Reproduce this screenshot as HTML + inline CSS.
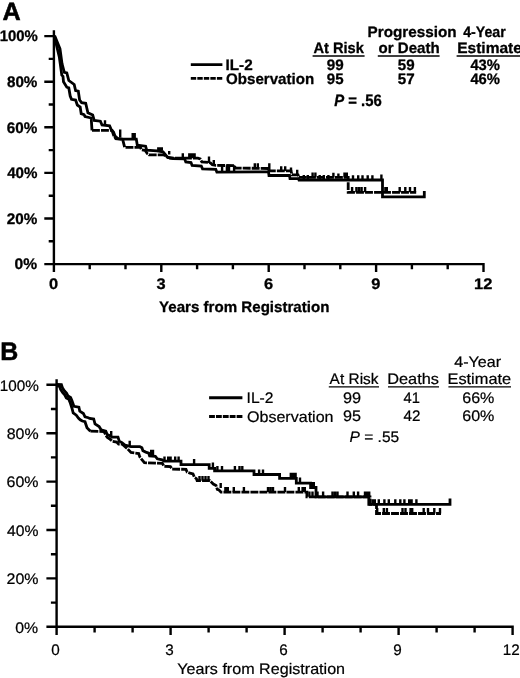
<!DOCTYPE html>
<html><head><meta charset="utf-8"><title>Kaplan-Meier</title>
<style>
html,body{margin:0;padding:0;background:#fff;}
body{width:520px;height:678px;overflow:hidden;font-family:"Liberation Sans",sans-serif;}
svg{display:block;will-change:transform;}
svg text{font-family:"Liberation Sans",sans-serif;fill:#000;text-rendering:geometricPrecision;stroke:#000;stroke-linejoin:round;stroke-width:.3px;}
svg text[font-weight="normal"]{stroke-width:.22px;}
svg text.big{stroke-width:.55px;}
</style></head><body>
<svg width="520" height="678" viewBox="0 0 520 678">
<rect width="520" height="678" fill="#fff"/>
<g fill="none" stroke="#000" stroke-linecap="butt" stroke-linejoin="miter">
<path stroke-width="2.4" d="M53.9,30.2V265.3M52.7,264.1H484.7M44.3,264.1H53.9M48.7,241.3H53.9M44.3,218.5H53.9M48.7,195.7H53.9M44.3,172.9H53.9M48.7,150.1H53.9M44.3,127.3H53.9M48.7,104.5H53.9M44.3,81.7H53.9M48.7,58.9H53.9M44.3,36.1H53.9M53.9,264.1V272.0M89.7,264.1V269.3M125.5,264.1V269.3M161.3,264.1V272.0M197.1,264.1V269.3M232.9,264.1V269.3M268.7,264.1V272.0M304.5,264.1V269.3M340.3,264.1V269.3M376.1,264.1V272.0M411.9,264.1V269.3M447.7,264.1V269.3M483.5,264.1V272.0"/>
<path stroke-width="2.8" d="M54.6,35.6 L60.0,48.8 L62.0,63.6 L64.3,72.4 L66.8,73.0 L68.8,80.5 L74.2,84.5 L75.6,90.6 L78.3,91.2 L79.6,100.0 L81.6,102.7 L85.7,103.3 L87.9,112.7 L92.7,115.0 L94.2,120.4 L100.4,121.2 L102.0,125.0 L109.6,125.8 L111.2,129.6 L113.5,132.0 L115.0,136.0 L117.5,138.3 L123.0,139.2 L136.3,139.2 L137.3,145.2 L145.6,146.2 L146.7,150.2 L157.0,150.8 L163.0,151.8 L165.4,154.6 L167.7,157.5 L173.0,158.5 L184.6,158.8 L185.8,162.0 L191.0,162.5 L192.1,165.4 L201.3,166.0 L202.5,168.8 L215.8,169.4 L216.9,172.2 L268.5,171.8 L269.0,175.5 L289.5,175.5 L290.0,178.6 L298.5,178.6 L299.0,180.0 L382.5,180.0 L382.5,196.8 L424.3,196.8 L424.3,191.0"/>
<path stroke-width="2.8" d="M54.4,36.4 L59.3,56.9 L61.8,75.1 L63.0,76.4 L63.5,81.8 L66.8,87.2 L68.8,87.9 L70.2,96.0 L71.5,99.3 L75.6,100.0 L77.3,105.0 L80.2,107.0 L81.2,113.7 L84.0,114.6 L85.0,116.5 L91.2,118.0 L92.0,130.4"/>
<path stroke-width="2.8" stroke-dasharray="7.9 1.1" d="M92.0,130.4 L112.0,130.4 L113.5,135.0 L115.8,138.8 L122.7,139.6 L124.7,147.3 L140.4,147.3 L141.5,149.8 L145.0,150.3 L147.3,153.6 L149.0,154.8 L163.5,154.8 L167.0,156.8 L170.0,158.0 L197.9,158.2 L200.2,159.0 L201.9,162.0 L208.3,162.5 L210.6,163.0 L212.3,164.8 L215.8,165.4 L234.2,165.6 L235.4,168.0 L268.5,168.5 L269.0,170.8 L291.0,170.8 L292.0,174.8 L298.0,174.8 L299.0,177.4 L348.2,177.4 L348.2,192.3 L416.2,192.3"/>
<path stroke-width="2.4" d="M105.0,125.0v-4.8M120.2,137.5v-8.0M132.7,139.2v-6.2M134.7,139.2v-6.2M158.3,150.8v-3.6M160.2,150.8v-3.6M161.8,150.8v-3.6M169.2,154.5v-3.6M182.8,158.2v-5.0M189.3,158.2v-5.0M191.1,158.2v-5.0M192.9,158.2v-5.0M194.6,158.2v-5.0M209.0,163.0v-6.6M213.8,165.4v-5.4M222.1,172.2v-7.0M226.9,172.2v-7.0M229.0,172.2v-7.0M234.1,172.2v-7.0M254.8,168.5v-5.2M257.8,168.5v-5.2M269.3,171.0v-7.7M281.2,171.0v-4.8M285.2,171.0v-4.8M291.0,171.0v-3.6M297.2,174.8v-5.0M303.8,180.0v-5.0M307.8,180.0v-5.0M319.7,180.0v-5.0M323.8,180.0v-5.0M328.4,180.0v-5.0M312.6,177.4v-5.0M315.4,177.4v-5.0M333.4,177.4v-4.6M338.4,177.4v-4.0M344.5,177.4v-5.0M346.8,177.4v-5.0M353.0,180.0v-4.8M358.2,180.0v-4.8M362.5,180.0v-4.8M367.7,180.0v-4.8M372.4,180.0v-4.8M381.4,180.0v-5.5M352.1,192.3v-5.4M356.4,192.3v-5.4M359.0,192.3v-5.4M361.6,192.3v-5.4M365.1,192.3v-5.4M385.4,192.3v-5.4M386.8,192.3v-5.4M399.7,192.3v-5.4M405.3,192.3v-5.4M410.0,192.3v-5.4M414.9,192.3v-5.4"/>
<path stroke-width="2.8" d="M190.8,64.7H222.4"/>
<path stroke-width="2.8" stroke-dasharray="5.4 1.12" d="M190.8,78.4H222.4"/>
</g>
<text class="big" x="2.47" y="19.7" font-size="25" font-weight="bold" text-anchor="start" textLength="18.22" lengthAdjust="spacingAndGlyphs">A</text>
<text x="14.48" y="269.3" font-size="15.3" font-weight="bold" text-anchor="start" textLength="22.52" lengthAdjust="spacingAndGlyphs">0%</text>
<text x="6.87" y="223.7" font-size="15.3" font-weight="bold" text-anchor="start" textLength="30.54" lengthAdjust="spacingAndGlyphs">20%</text>
<text x="7.17" y="178.1" font-size="15.3" font-weight="bold" text-anchor="start" textLength="30.23" lengthAdjust="spacingAndGlyphs">40%</text>
<text x="6.87" y="132.5" font-size="15.3" font-weight="bold" text-anchor="start" textLength="30.54" lengthAdjust="spacingAndGlyphs">60%</text>
<text x="6.94" y="86.9" font-size="15.3" font-weight="bold" text-anchor="start" textLength="30.46" lengthAdjust="spacingAndGlyphs">80%</text>
<text x="-0.29" y="41.3" font-size="15.3" font-weight="bold" text-anchor="start" textLength="38.13" lengthAdjust="spacingAndGlyphs">100%</text>
<text x="49.14" y="289.1" font-size="15.3" font-weight="bold" text-anchor="start" textLength="9.13" lengthAdjust="spacingAndGlyphs">0</text>
<text x="156.63" y="289.1" font-size="15.3" font-weight="bold" text-anchor="start" textLength="9.13" lengthAdjust="spacingAndGlyphs">3</text>
<text x="263.94" y="289.1" font-size="15.3" font-weight="bold" text-anchor="start" textLength="9.13" lengthAdjust="spacingAndGlyphs">6</text>
<text x="371.34" y="289.1" font-size="15.3" font-weight="bold" text-anchor="start" textLength="9.13" lengthAdjust="spacingAndGlyphs">9</text>
<text x="474.02" y="289.1" font-size="15.3" font-weight="bold" text-anchor="start" textLength="18.27" lengthAdjust="spacingAndGlyphs">12</text>
<text x="159.1" y="311.8" font-size="15.2" font-weight="bold" text-anchor="start" textLength="170.33" lengthAdjust="spacingAndGlyphs">Years from Registration</text>
<text x="225.51" y="69.9" font-size="15.2" font-weight="bold" text-anchor="start" textLength="27.15" lengthAdjust="spacingAndGlyphs">IL-2</text>
<text x="226.0" y="83.5" font-size="15.2" font-weight="bold" text-anchor="start" textLength="88.21" lengthAdjust="spacingAndGlyphs">Observation</text>
<text x="367.61" y="36.5" font-size="15.2" font-weight="bold" text-anchor="start" textLength="89.01" lengthAdjust="spacingAndGlyphs">Progression</text>
<text x="463.19" y="36.5" font-size="15.2" font-weight="bold" text-anchor="start" textLength="42.59" lengthAdjust="spacingAndGlyphs">4-Year</text>
<text x="313.43" y="53" font-size="15.2" font-weight="bold" text-anchor="start" textLength="50.37" lengthAdjust="spacingAndGlyphs">At Risk</text>
<text x="378.5" y="53" font-size="15.2" font-weight="bold" text-anchor="start" textLength="61.13" lengthAdjust="spacingAndGlyphs">or Death</text>
<text x="457.19" y="53" font-size="15.2" font-weight="bold" text-anchor="start" textLength="64.71" lengthAdjust="spacingAndGlyphs">Estimate</text>
<text x="326.87" y="70.1" font-size="15.2" font-weight="bold" text-anchor="start" textLength="16.9" lengthAdjust="spacingAndGlyphs">99</text>
<text x="326.87" y="83.5" font-size="15.2" font-weight="bold" text-anchor="start" textLength="16.74" lengthAdjust="spacingAndGlyphs">95</text>
<text x="397.75" y="70.1" font-size="15.2" font-weight="bold" text-anchor="start" textLength="16.82" lengthAdjust="spacingAndGlyphs">59</text>
<text x="397.74" y="83.5" font-size="15.2" font-weight="bold" text-anchor="start" textLength="16.9" lengthAdjust="spacingAndGlyphs">57</text>
<text x="470.38" y="70.1" font-size="15.2" font-weight="bold" text-anchor="start" textLength="29.61" lengthAdjust="spacingAndGlyphs">43%</text>
<text x="470.38" y="83.5" font-size="15.2" font-weight="bold" text-anchor="start" textLength="29.61" lengthAdjust="spacingAndGlyphs">46%</text>
<g stroke="#000" stroke-width="1.3"><path d="M312.6,56H364.6M377.8,56H439.6M456.6,56H520"/></g>
<text x="334.2" y="105.6" font-size="16.6" font-weight="bold" textLength="47.6" lengthAdjust="spacingAndGlyphs"><tspan font-style="italic">P</tspan> = .56</text>
<g fill="none" stroke="#000" stroke-linecap="butt" stroke-linejoin="miter">
<path stroke-width="2.4" d="M56.6,379.2V628.0M55.4,626.8H513.8M46.4,626.8H56.6M50.9,602.6H56.6M46.4,578.4H56.6M50.9,554.2H56.6M46.4,530.0H56.6M50.9,505.8H56.6M46.4,481.6H56.6M50.9,457.4H56.6M46.4,433.2H56.6M50.9,409.0H56.6M46.4,384.8H56.6M56.6,626.8V635.0M94.6,626.8V632.5M132.6,626.8V632.5M170.6,626.8V635.0M208.6,626.8V632.5M246.6,626.8V632.5M284.6,626.8V635.0M322.6,626.8V632.5M360.6,626.8V632.5M398.6,626.8V635.0M436.6,626.8V632.5M474.6,626.8V632.5M512.6,626.8V635.0"/>
<path stroke-width="2.8" d="M56.7,384.4 L61.4,384.6 L62.4,387.7 L64.5,390.9 L66.5,393.1 L68.1,396.1 L70.6,397.4 L71.9,400.6 L73.9,406.3 L78.9,407.2 L79.8,411.2 L83.4,413.5 L85.0,416.8 L88.3,417.7 L89.7,418.4 L93.7,419.0 L95.0,423.8 L99.1,426.5 L101.1,429.8 L105.8,431.2 L107.2,434.5 L110.5,435.9 L111.9,437.2 L118.0,437.2 L119.3,441.3 L122.0,442.6 L125.0,445.0 L131.0,446.6 L139.8,446.6 L141.9,447.8 L142.9,450.7 L145.8,452.1 L148.7,453.1 L149.6,456.0 L155.4,456.4 L157.3,458.8 L162.1,459.8 L164.0,461.2 L181.0,461.2 L181.0,464.7 L209.2,464.7 L209.2,468.4 L214.6,468.4 L214.6,470.9 L254.0,470.9 L254.0,474.5 L279.6,474.5 L279.6,478.3 L296.3,478.3 L296.3,483.2 L310.6,483.2 L310.6,487.5 L316.0,487.5 L316.0,496.8 L368.8,496.8 L368.8,504.3 L450.0,504.3 L450.0,498.6"/>
<path stroke-width="2.8" d="M56.7,385.9 L59.6,386.4 L60.6,389.5 L62.7,392.7 L64.7,394.9 L66.3,397.9 L68.8,399.2 L70.1,402.4 L71.9,408.0 L73.2,413.0 L76.3,415.2 L78.6,418.3 L80.2,419.8 L82.3,421.0 L85.0,421.7 L87.0,427.8 L90.4,431.2"/>
<path stroke-width="2.8" stroke-dasharray="7.9 1.1" d="M90.4,431.2 L104.0,431.5 L105.8,435.0 L107.2,437.2 L109.9,439.2 L112.6,441.3 L116.6,442.0 L118.6,444.0 L122.0,444.0 L127.5,448.8 L131.0,452.5 L138.7,453.5 L139.8,456.9 L142.1,459.8 L144.4,462.7 L162.3,463.3 L164.0,466.2 L170.4,466.7 L172.1,469.0 L186.0,469.4 L187.1,472.0 L190.0,473.2 L193.0,474.0 L194.4,477.3 L196.4,478.6 L197.1,480.7 L209.9,480.7 L213.3,484.0 L216.0,485.4 L217.3,489.4 L219.0,490.0 L221.0,492.1 L306.9,492.1 L306.9,496.8 L370.0,496.8 L370.0,504.3 L376.5,504.3 L376.5,513.5 L441.0,513.5"/>
<path stroke-width="2.4" d="M111.2,435.9v-4.8M129.7,445.6v-4.8M151.2,456.2v-6.5M153.0,456.2v-6.5M164.5,461.2v-4.8M168.2,461.2v-4.8M170.6,461.2v-4.8M175.2,461.2v-4.8M178.6,461.2v-4.8M194.1,464.7v-5.6M212.9,468.4v-6.0M217.4,470.9v-5.0M222.0,470.9v-5.0M234.9,470.9v-5.0M239.5,470.9v-5.0M242.3,470.9v-5.0M259.1,474.5v-5.0M263.0,474.5v-5.0M290.8,478.3v-5.6M293.2,478.3v-5.6M295.6,478.3v-5.6M300.0,483.2v-5.7M311.5,487.5v-5.6M313.8,487.5v-5.6M199.5,480.7v-4.8M202.5,480.7v-4.8M205.5,480.7v-4.8M208.5,480.7v-4.8M220.7,488.0v-5.0M225.4,492.1v-5.2M227.8,492.1v-5.2M233.8,492.1v-5.2M243.9,492.1v-5.2M268.0,492.1v-5.2M270.5,492.1v-5.2M273.0,492.1v-5.2M285.0,492.1v-5.2M298.8,492.1v-5.2M302.6,492.1v-5.2M304.8,492.1v-5.2M309.4,496.8v-5.3M312.5,496.8v-5.3M317.5,496.8v-5.3M323.1,496.8v-5.3M332.5,496.8v-5.3M335.0,496.8v-5.3M337.5,496.8v-5.3M347.5,496.8v-5.3M353.8,496.8v-5.3M358.1,496.8v-5.3M365.0,496.8v-5.3M367.2,496.8v-5.3M369.2,496.8v-5.3M372.5,504.3v-5.0M374.8,504.3v-5.0M378.8,504.3v-5.0M384.4,504.3v-5.0M388.8,504.3v-5.0M395.3,504.3v-5.0M400.3,504.3v-5.0M404.4,504.3v-5.0M409.2,504.3v-5.0M411.6,504.3v-5.0M416.4,504.3v-5.0M377.2,513.5v-5.4M383.8,513.5v-5.4M386.9,513.5v-5.4M402.5,513.5v-5.4M405.5,513.5v-5.4M410.6,513.5v-5.4M412.2,513.5v-5.4M423.7,513.5v-5.4M428.0,513.5v-5.4M434.3,513.5v-5.4M440.0,513.5v-5.4"/>
<path stroke-width="2.9" d="M209.1,397.8H242.4"/>
<path stroke-width="2.9" stroke-dasharray="5.8 1.08" d="M209.1,416.5H242.4"/>
</g>
<text class="big" x="0.28" y="359.7" font-size="25.4" font-weight="bold" text-anchor="start" textLength="18.0" lengthAdjust="spacingAndGlyphs">B</text>
<text x="15.27" y="632.5" font-size="15.3" font-weight="normal" text-anchor="start" textLength="22.89" lengthAdjust="spacingAndGlyphs">0%</text>
<text x="6.6" y="584.1" font-size="15.3" font-weight="normal" text-anchor="start" textLength="31.98" lengthAdjust="spacingAndGlyphs">20%</text>
<text x="7.09" y="535.7" font-size="15.3" font-weight="normal" text-anchor="start" textLength="31.49" lengthAdjust="spacingAndGlyphs">40%</text>
<text x="6.6" y="487.3" font-size="15.3" font-weight="normal" text-anchor="start" textLength="31.98" lengthAdjust="spacingAndGlyphs">60%</text>
<text x="6.68" y="438.9" font-size="15.3" font-weight="normal" text-anchor="start" textLength="31.9" lengthAdjust="spacingAndGlyphs">80%</text>
<text x="-0.14" y="390.5" font-size="15.3" font-weight="normal" text-anchor="start" textLength="39.04" lengthAdjust="spacingAndGlyphs">100%</text>
<text x="51.23" y="655.0" font-size="15.3" font-weight="normal" text-anchor="start" textLength="8.49" lengthAdjust="spacingAndGlyphs">0</text>
<text x="165.26" y="655.0" font-size="15.3" font-weight="normal" text-anchor="start" textLength="8.49" lengthAdjust="spacingAndGlyphs">3</text>
<text x="279.19" y="655.0" font-size="15.3" font-weight="normal" text-anchor="start" textLength="8.49" lengthAdjust="spacingAndGlyphs">6</text>
<text x="393.26" y="655.0" font-size="15.3" font-weight="normal" text-anchor="start" textLength="8.49" lengthAdjust="spacingAndGlyphs">9</text>
<text x="502.84" y="655.0" font-size="15.3" font-weight="normal" text-anchor="start" textLength="16.98" lengthAdjust="spacingAndGlyphs">12</text>
<text x="177.3" y="674.3" font-size="15.3" font-weight="normal" text-anchor="start" textLength="167.79" lengthAdjust="spacingAndGlyphs">Years from Registration</text>
<text x="246.59" y="403" font-size="15.3" font-weight="normal" text-anchor="start" textLength="26.94" lengthAdjust="spacingAndGlyphs">IL-2</text>
<text x="246.98" y="421.5" font-size="15.3" font-weight="normal" text-anchor="start" textLength="86.59" lengthAdjust="spacingAndGlyphs">Observation</text>
<text x="454.28" y="367" font-size="15.3" font-weight="normal" text-anchor="start" textLength="46.84" lengthAdjust="spacingAndGlyphs">4-Year</text>
<text x="329.6" y="384.4" font-size="15.3" font-weight="normal" text-anchor="start" textLength="48.93" lengthAdjust="spacingAndGlyphs">At Risk</text>
<text x="387.19" y="384.4" font-size="15.3" font-weight="normal" text-anchor="start" textLength="51.86" lengthAdjust="spacingAndGlyphs">Deaths</text>
<text x="447.49" y="384.4" font-size="15.3" font-weight="normal" text-anchor="start" textLength="63.65" lengthAdjust="spacingAndGlyphs">Estimate</text>
<text x="343.07" y="403.4" font-size="15.3" font-weight="normal" text-anchor="start" textLength="18.1" lengthAdjust="spacingAndGlyphs">99</text>
<text x="343.07" y="421" font-size="15.3" font-weight="normal" text-anchor="start" textLength="18.01" lengthAdjust="spacingAndGlyphs">95</text>
<text x="403.51" y="403.4" font-size="15.3" font-weight="normal" text-anchor="start" textLength="16.39" lengthAdjust="spacingAndGlyphs">41</text>
<text x="403.5" y="421" font-size="15.3" font-weight="normal" text-anchor="start" textLength="16.9" lengthAdjust="spacingAndGlyphs">42</text>
<text x="462.2" y="403.4" font-size="15.3" font-weight="normal" text-anchor="start" textLength="32.19" lengthAdjust="spacingAndGlyphs">66%</text>
<text x="462.2" y="421" font-size="15.3" font-weight="normal" text-anchor="start" textLength="32.19" lengthAdjust="spacingAndGlyphs">60%</text>
<g stroke="#000" stroke-width="1.1"><path d="M328.8,386.9H379M388,386.9H439M448.4,386.9H511"/></g>
<text x="349.6" y="442.1" font-size="15.3" font-weight="normal" textLength="49.6" lengthAdjust="spacingAndGlyphs"><tspan font-style="italic">P</tspan> = .55</text>
</svg></body></html>
